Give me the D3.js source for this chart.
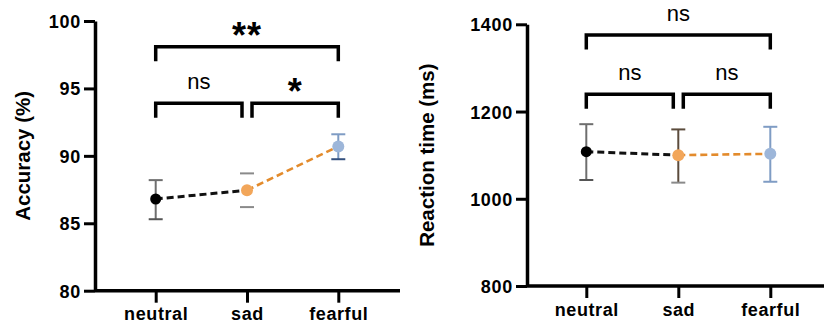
<!DOCTYPE html>
<html>
<head>
<meta charset="utf-8">
<script src="https://cdn.jsdelivr.net/npm/d3@7"></script>
<style>
  body { margin: 0; background: #fff; }
  svg { display: block; font-family: "Liberation Sans", Arial, sans-serif; }
</style>
</head>
<body>
<div id="chart"></div>
<script>
// condition labels
const conditions = ["neutral", "sad", "fearful"];

// accuracy (%) - mean and error bar ends
const accMean = [86.8, 87.45, 90.7];
const accUpper = [88.2, 88.7, 91.6];
const accLower = [85.3, 86.2, 89.75];
const accTicks = [80, 85, 90, 95, 100];
const accSig = ["ns", "*", "**"];   // neutral-sad, sad-fearful, neutral-fearful

// reaction time (ms)
const rtMean = [1108, 1100, 1103];
const rtUpper = [1171, 1159, 1165];
const rtLower = [1043, 1037, 1039];
const rtTicks = [800, 1000, 1200, 1400];
const rtSig = ["ns", "ns", "ns"];

const dotColors = ["#000000", "#f2a65a", "#9db6d9"];
const lineColors = ["#111111", "#e38b2c"];

const svg = d3.select("#chart").append("svg")
    .attr("width", 824)
    .attr("height", 327);

function drawPanel(p) {
  const x = d3.scalePoint()
      .domain(conditions)
      .range([p.x0, p.x1]);
  const y = d3.scaleLinear()
      .domain(d3.extent(p.ticks))
      .range([p.yBottom, p.yTop]);

  const g = svg.append("g");

  // y axis
  const yAxis = g.append("g")
      .attr("transform", `translate(${p.axisX},0)`)
      .call(d3.axisLeft(y).tickValues(p.ticks).tickFormat(d3.format("d"))
        .tickSize(11).tickSizeOuter(0).tickPadding(3));
  yAxis.select(".domain").attr("stroke", "#000").attr("stroke-width", 3.5);
  yAxis.selectAll(".tick line").attr("stroke", "#000").attr("stroke-width", 3);
  yAxis.selectAll(".tick text")
      .attr("fill", "#000")
      .style("font-size", "18px")
      .style("font-weight", "bold")
      .style("letter-spacing", "0.7px")
      .attr("dy", "0.36em");

  // x axis
  const xAxis = g.append("g")
      .attr("transform", `translate(0,${p.yBottom})`)
      .call(d3.axisBottom(x).tickSize(12).tickSizeOuter(0).tickPadding(5));
  xAxis.select(".domain").attr("d", `M${p.axisX},0H${p.axisEnd}`)
      .attr("stroke", "#000").attr("stroke-width", 3.5);
  xAxis.selectAll(".tick line").attr("stroke", "#000").attr("stroke-width", 3);
  xAxis.selectAll(".tick text")
      .attr("fill", "#000")
      .style("font-size", "18px")
      .style("font-weight", "bold")
      .style("letter-spacing", "0.6px")
      .attr("dy", "0.71em");

  // y label
  g.append("text")
      .attr("transform", `translate(${p.labelX},${(p.yTop + p.yBottom) / 2}) rotate(-90)`)
      .attr("text-anchor", "middle")
      .attr("dominant-baseline", "central")
      .style("font-size", "20.5px")
      .style("font-weight", "bold")
      .text(p.label);

  // dashed connecting lines
  for (let i = 0; i < conditions.length - 1; i++) {
    g.append("line")
        .attr("x1", x(conditions[i])).attr("y1", y(p.mean[i]))
        .attr("x2", x(conditions[i + 1])).attr("y2", y(p.mean[i + 1]))
        .attr("stroke", lineColors[i])
        .attr("stroke-width", i === 0 ? 3 : 2.6)
        .attr("stroke-dasharray", "7,4");
  }

  // error bars
  conditions.forEach((c, i) => {
    const cx = x(c);
    if (!p.hideStem || !p.hideStem[i]) {
      g.append("line")
          .attr("x1", cx).attr("x2", cx)
          .attr("y1", y(p.upper[i])).attr("y2", y(p.lower[i]))
          .attr("stroke", p.barColors[i]).attr("stroke-width", 2);
    }
    [p.upper[i], p.lower[i]].forEach((v, k) => {
      g.append("line")
          .attr("x1", cx - 7).attr("x2", cx + 7)
          .attr("y1", y(v)).attr("y2", y(v))
          .attr("stroke", k === 0 ? p.barColors[i] : p.capColors[i])
          .attr("stroke-width", 2);
    });
  });

  // dots
  g.selectAll("circle.dot")
    .data(conditions)
    .join("circle")
      .attr("class", "dot")
      .attr("cx", d => x(d))
      .attr("cy", (d, i) => y(p.mean[i]))
      .attr("r", (d, i) => i === 0 ? 5.5 : 6)
      .attr("fill", (d, i) => dotColors[i]);

  // significance brackets
  const pairs = [[0, 1, p.lowY], [1, 2, p.lowY], [0, 2, p.highY]];
  pairs.forEach(([a, b, by], k) => {
    let xa = x(conditions[a]), xb = x(conditions[b]);
    if (k === 0) xb -= 5;
    if (k === 1) xa += 5;
    g.append("path")
        .attr("d", `M${xa},${by + p.legLen}V${by}H${xb}V${by + p.legLen}`)
        .attr("fill", "none")
        .attr("stroke", "#000")
        .attr("stroke-width", 3.5);
    const star = p.sig[k].startsWith("*");
    g.append("text")
        .attr("x", (xa + xb) / 2)
        .attr("y", star ? by + 1 : by - 14)
        .attr("text-anchor", "middle")
        .style("font-size", star ? "36px" : "22px")
        .style("font-weight", star ? "bold" : "normal")
        .style("letter-spacing", star ? "1px" : "0px")
        .text(p.sig[k]);
  });
}

drawPanel({
  x0: 155.7, x1: 338.3, axisX: 95, axisEnd: 400,
  yTop: 21, yBottom: 290.7, ticks: accTicks,
  mean: accMean, upper: accUpper, lower: accLower,
  hideStem: [false, true, false],
  barColors: ["#6e6e6e", "#8a8a8a", "#7f9cc4"],
  capColors: ["#555555", "#8a8a8a", "#34507e"],
  sig: accSig, lowY: 103.3, highY: 46.7, legLen: 14.5,
  label: "Accuracy (%)", labelX: 22
});

drawPanel({
  x0: 586.3, x1: 770.3, axisX: 527, axisEnd: 824,
  yTop: 24.3, yBottom: 286, ticks: rtTicks,
  mean: rtMean, upper: rtUpper, lower: rtLower,
  barColors: ["#6e6e6e", "#5b4b3c", "#7f9cc4"],
  capColors: ["#555555", "#8a8a8a", "#7f9cc4"],
  sig: rtSig, lowY: 94.3, highY: 35, legLen: 14.5,
  label: "Reaction time (ms)", labelX: 426
});
</script>
</body>
</html>
